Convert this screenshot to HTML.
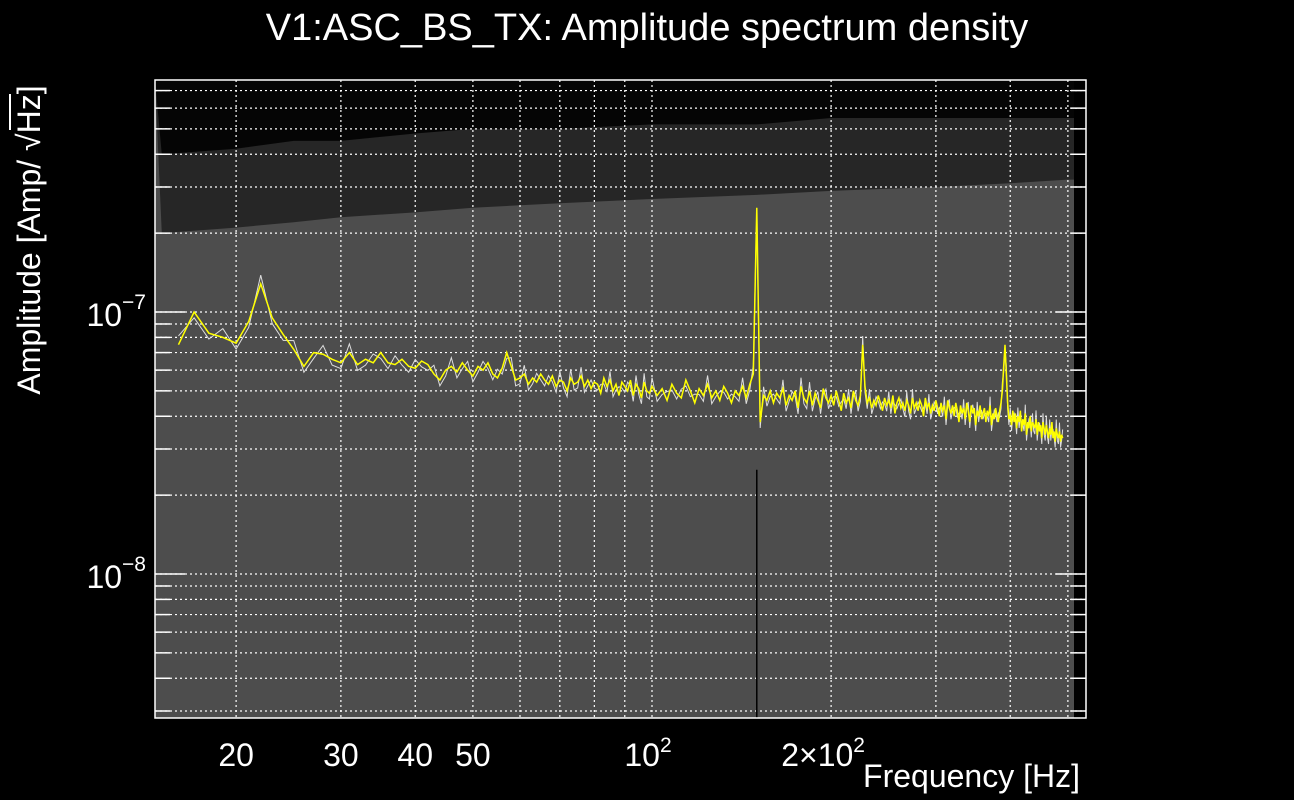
<!DOCTYPE html>
<html><head><meta charset="utf-8"><style>
html,body{margin:0;padding:0;background:#000;width:1294px;height:800px;overflow:hidden}
svg{display:block;font-family:"Liberation Sans",sans-serif}
</style></head><body>
<svg id="chart" width="1294" height="800" viewBox="0 0 1294 800" xmlns="http://www.w3.org/2000/svg">
<rect x="0" y="0" width="1294" height="800" fill="#000"/>
<text x="647" y="40" fill="#fff" font-size="38" text-anchor="middle">V1:ASC_BS_TX: Amplitude spectrum density</text>
<g id="plot"></g>
<g transform="translate(40,240) rotate(-90)">
<text x="0" y="0" fill="#fff" font-size="32" text-anchor="middle">Amplitude [Amp/ √Hz]</text>
<line x1="110" y1="-30" x2="146" y2="-30" stroke="#fff" stroke-width="2"/>
</g>
<text x="1080" y="787" fill="#fff" font-size="32" text-anchor="end">Frequency [Hz]</text>
</svg>
<script>
const xTickValues=[20,30,40,50];
const xTickLabels=["20","30","40","50"];
const yTickValues=[1e-7,1e-8];
const yTickLabels=["−7","−8"];
const freqStart1=16, freqStep1=1;
const amp1=[75,100,83,80,76,92,128,95,82,72,62,70,69,66,64,70,63,66,64,70,64,63,66,62,61,65,63,58,55,60,62,59,64,60,57,62,60,64,58,56,61,70,62,55,56,58,53,56,54,58,55,53,57,52,55,54,50,56,53,54,57,52,55,51,54,53,49,56,52,55,50,53,48,54,52,50,55,48,53,51,47,54,50,49,52];
const freqStart2=100, freqStep2=2;
const amp2=[52,48,51,46,53,49,47,55,50,45,
51,48,53,47,50,46,52,49,45,50,
48,52,47,53,58,250,38,48,46,50,
45,49,47,51,44,48,46,50,43,52,
47,45,50,44,49,46,43,51,47,45,
48,44,50,46,42,49,45,47,43,50,
46,44,48,75,52,45,47,43,46,44,
48,45,42,47,44,46,43,48,41,45,
47,43,45,42,46,44,41,47,43,45,
42,46,44,40,47,43,45,41,44,42,
46,43,40,45,42,44,39,46,43,41,
44,40,45,42,38,44,41,43,39,45,
42,38,44,41,43,37,42,40,44,39,
41,43,38,42,40,44,37,41,39,43,
40,38,42,45,50,62,75,58,45,39,
40,37,42,38,41,36,40,38,42,35,
39,37,41,34,38,36,40,35,38,37,
36,39,34,38,35,37,33,38,36,34,
37,35,33,36,34,38,33,35,32,36,
34,33,35,32,34,33];
const envFreq=[15,20,25,30,40,50,70,100,150,200,300,400,500,520];
const envSolid=[2.0e-7,2.1e-7,2.2e-7,2.3e-7,2.4e-7,2.5e-7,2.6e-7,2.7e-7,2.8e-7,2.9e-7,3.0e-7,3.1e-7,3.2e-7,3.2e-7];
const envMixed=[4.0e-7,4.2e-7,4.5e-7,4.5e-7,4.8e-7,5e-7,5e-7,5.2e-7,5.2e-7,5.5e-7,5.5e-7,5.5e-7,5.5e-7,5.5e-7];

const L=155,R=1086,T=80,B=718;
const xs=f=>652+595*Math.log10(f/100);
const ys=a=>312-262*Math.log10(a/1e-7);
const NS="http://www.w3.org/2000/svg";
const g=document.getElementById('plot');
function mk(tag,attrs,parent){const e=document.createElementNS(NS,tag);for(const k in attrs)e.setAttribute(k,attrs[k]);(parent||g).appendChild(e);return e;}

const bgRect=mk('rect',{x:L,y:T,width:1074-L,height:B-T,fill:'#4d4d4d'});


let p1='M'+L+','+T, p2='M'+L+','+T;
envFreq.forEach((f,i)=>{const x=Math.min(Math.max(xs(f),L),1074);p1+=' L'+x+','+ys(envMixed[i]);p2+=' L'+x+','+ys(envSolid[i]);});
p1+=' L1074,'+T+' Z'; p2+=' L1074,'+T+' Z';
const mixPath=mk('path',{d:p2,fill:'rgba(0,0,0,0.5)'});


const topPath=mk('path',{d:p1,fill:'rgba(0,0,0,0.85)'});



const gridF=[20,30,40,50,60,70,80,90,100,200,300,400,500];
gridF.forEach(f=>{const l=mk('line',{x1:xs(f),x2:xs(f),y1:T,y2:B,stroke:'#fff','stroke-width':1.2,'stroke-dasharray':'2,3'});

});
const gridA=[];[1e-9,1e-8,1e-7].forEach(d=>{for(let k=1;k<10;k++)gridA.push(k*d);});
gridA.forEach(a=>{const y=ys(a);if(y<T||y>B)return;const l=mk('line',{x1:L,x2:R,y1:y,y2:y,stroke:'#fff','stroke-width':1.2,'stroke-dasharray':'2,3'});


const major=(a===1e-7||a===1e-8);
const t=mk('line',{x1:L,x2:L+(major?30:15),y1:y,y2:y,stroke:'#fff','stroke-width':1.5});


const t2=mk('line',{x1:R,x2:R-(major?30:15),y1:y,y2:y,stroke:'#fff','stroke-width':1.5});

});

const bl=mk('line',{x1:xs(150),x2:xs(150),y1:ys(2.5e-8),y2:B,stroke:'#000','stroke-width':1.5});



const freqs=[],amps=[];
amp1.forEach((a,i)=>{freqs.push(freqStart1+i*freqStep1);amps.push(a*1e-9);});
amp2.forEach((a,i)=>{if(i===0)return;freqs.push(freqStart2+i*freqStep2);amps.push(a*1e-9);});
const refLine=mk('polyline',{points:freqs.map((f,i)=>xs(f)+','+ys(amps[i]*(i%3===0?1.08:0.95))).join(' '),fill:'none',stroke:'#ddd','stroke-width':1});


const ser=mk('polyline',{points:freqs.map((f,i)=>xs(f)+','+ys(amps[i])).join(' '),fill:'none',stroke:'#ffff00','stroke-width':1.5});



const fr=mk('rect',{x:L,y:T,width:R-L,height:B-T,fill:'none',stroke:'#fff','stroke-width':1.5});



xTickValues.forEach((v,i)=>{const t=mk('text',{x:xs(v),y:766,fill:'#fff','font-size':32,'text-anchor':'middle'});t.textContent=xTickLabels[i];

});
const t100=mk('text',{x:xs(100)-4,y:766,fill:'#fff','font-size':32,'text-anchor':'middle'});t100.innerHTML='10<tspan font-size="21" dy="-14">2</tspan>';


const t200=mk('text',{x:xs(200)-8,y:766,fill:'#fff','font-size':32,'text-anchor':'middle'});t200.innerHTML='2×10<tspan font-size="21" dy="-14">2</tspan>';


yTickValues.forEach((v,i)=>{const t=mk('text',{x:146,y:ys(v)+14,fill:'#fff','font-size':32,'text-anchor':'end'});t.innerHTML='10<tspan font-size="21" dy="-17">'+yTickLabels[i]+'</tspan>';

});
</script>
</body></html>
